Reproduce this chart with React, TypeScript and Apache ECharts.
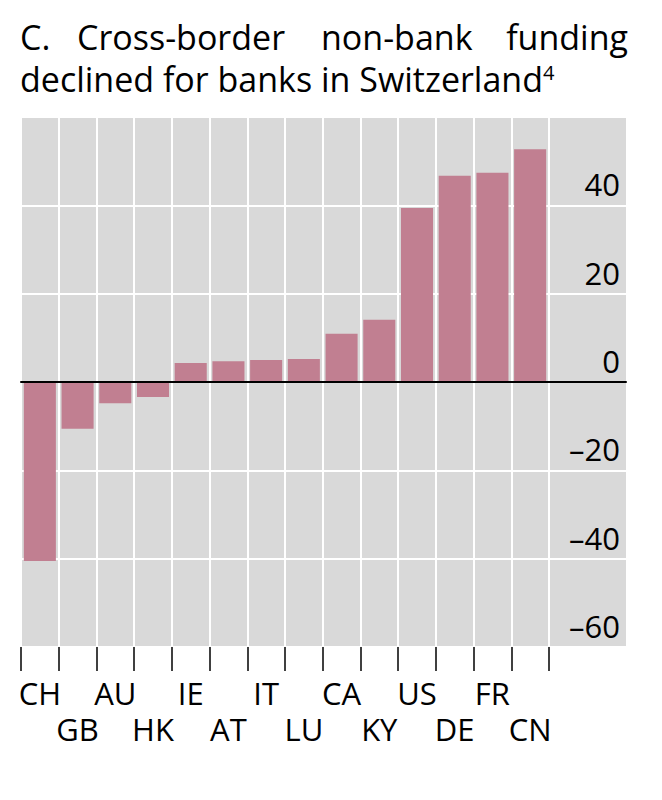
import { useEffect, useRef } from 'react';
import * as echarts from 'echarts';

const countries = ['CH', 'GB', 'AU', 'HK', 'IE', 'AT', 'IT', 'LU', 'CA', 'KY', 'US', 'DE', 'FR', 'CN'];
const changes = [-40.5, -10.6, -4.8, -3.4, 4.3, 4.7, 5.0, 5.2, 10.9, 14.1, 39.4, 46.7, 47.4, 52.7];
const titleWords = ['C.', 'Cross-border', 'non-bank', 'funding'];
const titleLine2 = 'declined for banks in Switzerland';
const titleNote = '4';

const FONT = '"Open Sans", "Noto Sans", sans-serif';
const GRAY = '#d9d9d9';
const BAR = '#c17f91';

export default function App() {
  const chartRef = useRef<HTMLDivElement>(null);

  useEffect(() => {
    if (!chartRef.current) return;
    const chart = echarts.init(chartRef.current, undefined, { renderer: 'svg' });

    // first title line is justified: fixed-width tokens, last word pushed to the right edge
    const wordWidths = [57, 244, 150];
    const titleText =
      titleWords.map((w, i) => `{w${Math.min(i, 3)}|${w}}`).join('') +
      `\n{a|${titleLine2}}{s|${titleNote}}`;
    const titleRich: Record<string, any> = {
      a: { fontSize: 34, fontFamily: FONT, lineHeight: 42 },
      s: { fontSize: 20, fontFamily: FONT, lineHeight: 26, verticalAlign: 'top', padding: [4, 0, 0, 0] },
      w3: { fontSize: 34, fontFamily: FONT, lineHeight: 42, align: 'right' },
    };
    wordWidths.forEach((wd, i) => {
      titleRich['w' + i] = { fontSize: 34, fontFamily: FONT, lineHeight: 42, width: wd };
    });

    const option: echarts.EChartsOption = {
      animation: false,
      textStyle: { fontFamily: FONT },
      grid: [
        { left: 21, top: 117, width: 605, height: 530, show: true, backgroundColor: GRAY, borderWidth: 0, z: -1 },
        { left: 21, top: 117, width: 528, height: 530 },
      ],
      graphic: [
        {
          type: 'text',
          left: 20,
          top: 20,
          style: {
            text: titleText,
            width: 608,
            fontFamily: FONT,
            fontSize: 34,
            fill: '#000',
            rich: titleRich,
          },
        },
      ],
      xAxis: [
        {
          type: 'value',
          gridIndex: 0,
          min: 0,
          max: 1,
          z: 10,
          axisLine: { show: true, onZero: true, lineStyle: { color: '#000', width: 2 } },
          axisTick: { show: false },
          axisLabel: { show: false },
          splitLine: { show: false },
        },
        {
          type: 'category',
          gridIndex: 1,
          data: countries,
          boundaryGap: true,
          axisLine: { show: false, onZero: false },
          axisTick: { show: true, length: 24, lineStyle: { color: '#000', width: 1.5 } },
          splitLine: { show: true, interval: 0, lineStyle: { color: '#fff', width: 2 } },
          axisLabel: {
            interval: 0,
            margin: 28,
            fontSize: 31,
            lineHeight: 36,
            color: '#000',
            fontFamily: FONT,
            formatter: (v: string, i: number) => (i % 2 === 1 ? '\n' + v : v),
          },
        },
      ],
      yAxis: [
        {
          type: 'value',
          gridIndex: 0,
          position: 'right',
          min: -60,
          max: 60,
          interval: 20,
          axisLine: { show: false },
          axisTick: { show: false },
          splitLine: { show: true, lineStyle: { color: '#fff', width: 2 } },
          axisLabel: {
            inside: true,
            margin: 6,
            fontSize: 31,
            lineHeight: 42,
            color: '#000',
            fontFamily: FONT,
            align: 'right',
            verticalAlign: 'bottom',
            formatter: (v: number) => (v === 60 ? '' : String(v).replace('-', '\u2013')),
          },
        },
        {
          type: 'value',
          gridIndex: 1,
          min: -60,
          max: 60,
          interval: 20,
          show: false,
        },
      ],
      series: [
        {
          type: 'bar',
          xAxisIndex: 1,
          yAxisIndex: 1,
          data: changes,
          barCategoryGap: '15%',
          itemStyle: { color: BAR },
        },
      ],
    };

    chart.setOption(option);
    return () => chart.dispose();
  }, []);

  return (
    <div
      ref={chartRef}
      style={{ position: 'absolute', left: 0, top: 0, width: 662, height: 800 }}
    />
  );
}
